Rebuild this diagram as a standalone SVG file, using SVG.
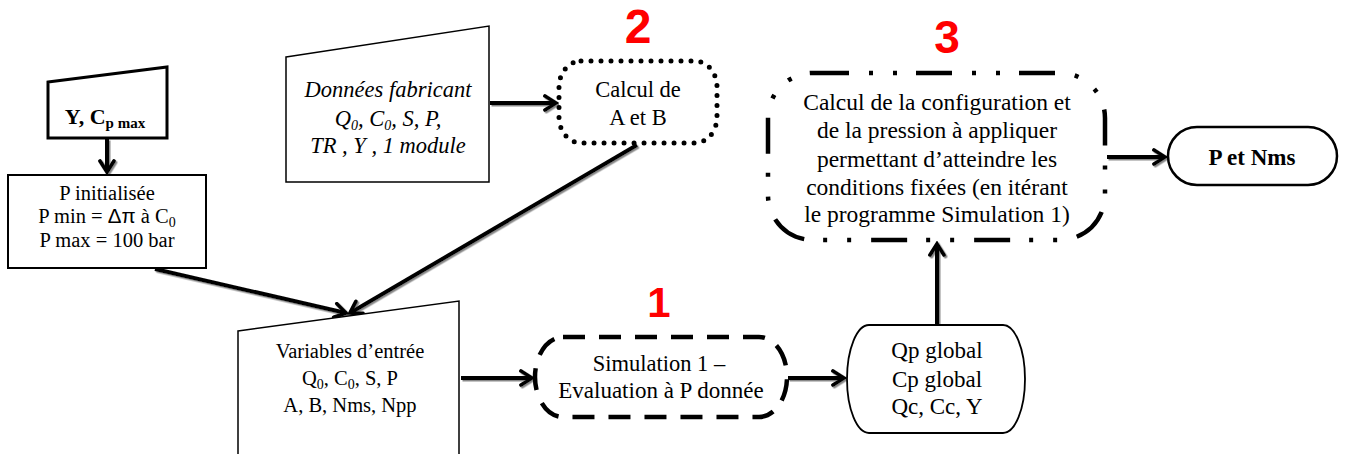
<svg xmlns="http://www.w3.org/2000/svg" width="1346" height="454" viewBox="0 0 1346 454">
<style>
  .t{font-family:"Liberation Serif","Times New Roman",serif;font-size:22px;fill:#000;text-anchor:middle}
  .s{font-size:20.5px}
  .m{font-size:22.5px}
  .l{font-size:23px}
  .xl{font-size:23.5px}
  .i{font-style:italic}
  .b{font-weight:bold}
  .sub{font-size:14px}
  .sub15{font-size:15px}
  .sym{font-family:"Liberation Sans",Arial,sans-serif}
  .num{font-family:"Liberation Sans",Arial,sans-serif;font-weight:bold;fill:#ff0000;text-anchor:middle}
  .n48{font-size:48px}
  .n46{font-size:46px}
  .n42{font-size:42px}
  .box{fill:#fff;stroke:#000}
  .con{fill:none;stroke:#000;stroke-width:4;marker-end:url(#arr)}
</style>
<defs>
  <marker id="arr" markerUnits="userSpaceOnUse" markerWidth="18" markerHeight="18" viewBox="0 0 18 18" refX="15" refY="9" orient="auto">
    <path d="M4,2 L15,9 L4,16" fill="none" stroke="#000" stroke-width="3.8" stroke-linecap="round" stroke-linejoin="miter"/>
  </marker>
  <filter id="sh" x="-10%" y="-10%" width="130%" height="130%">
    <feDropShadow dx="1.5" dy="1.5" stdDeviation="0.7" flood-color="#888"/>
  </filter>
</defs>
<rect width="1346" height="454" fill="#fff"/>

<g id="connectors" filter="url(#sh)">
  <line class="con" x1="107" y1="139" x2="107" y2="172"/>
  <line class="con" x1="155" y1="269" x2="346" y2="313"/>
  <line class="con" x1="637" y1="145" x2="350" y2="313"/>
  <line class="con" x1="490" y1="103" x2="556" y2="103"/>
  <line class="con" x1="461" y1="378" x2="532" y2="378"/>
  <line class="con" x1="788" y1="378" x2="844" y2="378"/>
  <line class="con" x1="937" y1="325" x2="937" y2="244"/>
  <line class="con" x1="1107" y1="157" x2="1165" y2="157"/>
</g>

<g id="node-y-cpmax">
  <polygon class="box" points="48,82 167,67 167,138 48,138" stroke-width="3"/>
  <text class="t b" x="105" y="124"><tspan>Y, C</tspan><tspan class="sub15" dy="4">p max</tspan></text>
</g>

<g id="node-p-init">
  <rect class="box" x="8" y="175" width="198" height="93" stroke-width="2"/>
  <text class="t s" x="107" y="200">P initialisée</text>
  <text class="t s" x="107" y="223">P min =  <tspan class="sym">Δπ</tspan> à C<tspan class="sub" dy="4">0</tspan></text>
  <text class="t s" x="107" y="247">P max = 100 bar</text>
</g>

<g id="node-donnees">
  <polygon class="box" points="286,57 489,26 489,182 286,182" stroke-width="1.5"/>
  <text class="t i m" x="388" y="97">Données fabricant</text>
  <text class="t i m" x="388" y="126">Q<tspan class="sub" dy="4">0</tspan><tspan dy="-4">, C</tspan><tspan class="sub" dy="4">0</tspan><tspan dy="-4">, S, P,</tspan></text>
  <text class="t i m" x="388" y="153">TR , Y , 1 module</text>
</g>

<g id="node-calcul-ab">
  <rect x="559" y="61" width="158" height="82" rx="22" ry="26" fill="#fff" stroke="#000" stroke-width="5" stroke-dasharray="0 10" stroke-linecap="round"/>
  <text class="t m" x="638" y="97">Calcul de</text>
  <text class="t m" x="638" y="125">A et B</text>
  <text class="num n48" x="638" y="43">2</text>
</g>

<g id="node-variables">
  <polygon class="box" points="238,331 459,301 459,460 238,460" stroke-width="1.5"/>
  <text class="t s" x="350" y="358">Variables d’entrée</text>
  <text class="t s" x="350" y="385">Q<tspan class="sub" dy="4">0</tspan><tspan dy="-4">, C</tspan><tspan class="sub" dy="4">0</tspan><tspan dy="-4">, S, P</tspan></text>
  <text class="t s" x="350" y="412">A, B, Nms, Npp</text>
</g>

<g id="node-simulation">
  <rect x="535" y="337" width="252" height="80" rx="28" ry="40" fill="#fff" stroke="#000" stroke-width="4.5" stroke-dasharray="22 14"/>
  <text class="t m" x="659" y="371">Simulation 1 –</text>
  <text class="t l" x="661" y="398">Evaluation à P donnée</text>
  <text class="num n42" x="659" y="317">1</text>
</g>

<g id="node-qp">
  <rect class="box" x="847" y="325" width="178" height="108" rx="22" ry="54" stroke-width="1.8"/>
  <text class="t l" x="937" y="358">Qp global</text>
  <text class="t l" x="937" y="387">Cp global</text>
  <text class="t l" x="937" y="414">Qc, Cc, Y</text>
</g>

<g id="node-config">
  <rect x="768" y="73" width="337" height="167" rx="45" ry="45" fill="#fff" stroke="#000" stroke-width="4.5" stroke-dasharray="36 20 4 20 4 19"/>
  <text class="t xl" x="937" y="110">Calcul de la configuration et</text>
  <text class="t xl" x="937" y="138">de la pression à appliquer</text>
  <text class="t xl" x="937" y="167">permettant d’atteindre les</text>
  <text class="t xl" x="937" y="195">conditions fixées (en itérant</text>
  <text class="t xl" x="937" y="222">le programme Simulation 1)</text>
  <text class="num n46" x="947" y="53">3</text>
</g>

<g id="node-p-nms">
  <rect class="box" x="1168" y="127" width="169" height="58" rx="29" ry="29" stroke-width="2.5"/>
  <text class="t b l" x="1252" y="165">P et Nms</text>
</g>
</svg>
